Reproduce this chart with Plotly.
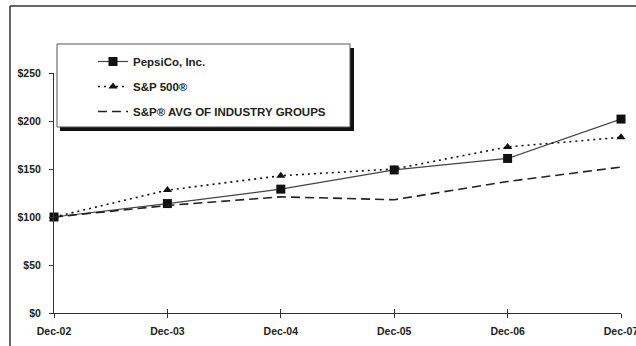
import plotly.graph_objects as go

categories = ["Dec-02", "Dec-03", "Dec-04", "Dec-05", "Dec-06", "Dec-07"]
pepsico = [100, 114, 129, 149, 161, 202]
sp500 = [100, 128, 143, 150, 173, 183]
industry = [100, 112, 121, 118, 137, 152]
y_ticks = [0, 50, 100, 150, 200, 250]

W, H = 636, 346
L, R, T, B = 54, 15, 73, 33
pw, ph = W - L - R, H - T - B

def px(x):
    return (x - L) / pw

def py(y):
    return (H - B - y) / ph

FONT = "Arial, Liberation Sans, sans-serif"
xs = list(range(len(categories)))

fig = go.Figure()
fig.add_trace(go.Scatter(
    x=xs, y=pepsico, name="<b>PepsiCo, Inc.</b>", mode="lines+markers",
    line=dict(color="#444444", width=1.2),
    marker=dict(symbol="square", size=9, color="#111111"),
    cliponaxis=False, legendgroup="a"))
fig.add_trace(go.Scatter(
    x=xs, y=sp500, name="<b>S&P 500®</b>", mode="lines+markers",
    line=dict(color="#111111", width=1.6, dash="2px,4px"),
    marker=dict(symbol="triangle-up", size=8, color="#111111"),
    cliponaxis=False, legendgroup="b"))
fig.add_trace(go.Scatter(
    x=xs, y=industry, name="<b>S&P® AVG OF INDUSTRY GROUPS</b>", mode="lines",
    line=dict(color="#222222", width=1.6, dash="9px,5px"),
    cliponaxis=False, legendgroup="c"))
# invisible helper trace so the crossing-tick overlay axis is drawn
fig.add_trace(go.Scatter(x=[xs[0]], y=[pepsico[0]], xaxis="x2", mode="markers",
                         marker=dict(opacity=0), showlegend=False, hoverinfo="skip"))

shapes = [
    # outer frame (left and top only)
    dict(type="line", xref="paper", yref="paper", x0=px(10), x1=px(10), y0=py(6), y1=py(H),
         line=dict(color="#333333", width=1.5), layer="above"),
    dict(type="line", xref="paper", yref="paper", x0=px(10), x1=px(W), y0=py(6), y1=py(6),
         line=dict(color="#333333", width=1.5), layer="above"),
    # legend shadow
    dict(type="rect", xref="paper", yref="paper", x0=px(60), x1=px(354), y0=py(48), y1=py(131),
         fillcolor="#111111", line=dict(width=0), layer="above"),
    # legend box
    dict(type="rect", xref="paper", yref="paper", x0=px(57), x1=px(350), y0=py(44), y1=py(127),
         fillcolor="white", line=dict(color="#555555", width=1), layer="above"),
]

fig.update_layout(
    template="none",
    width=W, height=H,
    margin=dict(l=L, r=R, t=T, b=B, autoexpand=False),
    paper_bgcolor="white", plot_bgcolor="white",
    font=dict(family=FONT, size=10.5, color="#222222"),
    showlegend=True,
    legend=dict(x=px(93), y=py(47), xanchor="left", yanchor="top",
                bgcolor="rgba(0,0,0,0)", borderwidth=0,
                traceorder="grouped", tracegroupgap=6,
                font=dict(family=FONT, size=11.5, color="#222222")),
    shapes=shapes,
    xaxis=dict(range=[0, 5], tickvals=xs, ticktext=["<b>%s</b>" % c for c in categories],
               showgrid=False, zeroline=False, showline=True, linecolor="#333333", linewidth=1,
               ticks="outside", ticklen=4, tickcolor="#333333", tickfont=dict(size=10.5),
               ticklabeloverflow="allow", ticklabelstandoff=4, automargin=False,
               fixedrange=True),
    xaxis2=dict(range=[0, 5], overlaying="x", side="bottom", anchor="y", tickvals=xs,
                showticklabels=False, showgrid=False, zeroline=False, showline=False,
                ticks="inside", ticklen=4, tickcolor="#333333", automargin=False,
                fixedrange=True),
    yaxis=dict(range=[0, 250], tickvals=y_ticks, ticktext=["<b>$%d</b>" % v for v in y_ticks],
               showgrid=False, zeroline=False, showline=True, linecolor="#333333", linewidth=1,
               ticks="outside", ticklen=4, tickcolor="#333333", tickfont=dict(size=10.5),
               ticklabelstandoff=6, automargin=False, fixedrange=True),
)

fig.write_html("out.html")
